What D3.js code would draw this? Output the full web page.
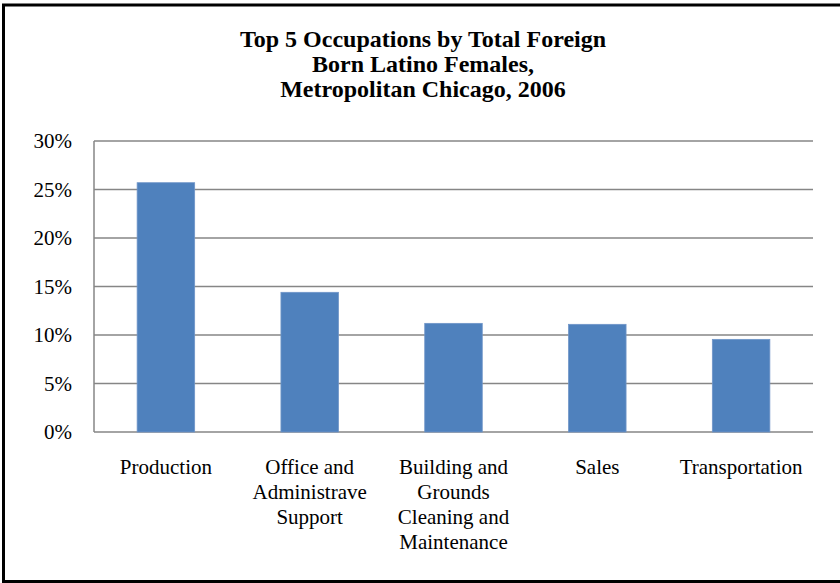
<!DOCTYPE html>
<html><head><meta charset="utf-8">
<script src="https://cdn.jsdelivr.net/npm/d3@7"></script>
<style>body{margin:0;background:#fff}svg{display:block}
text{font-family:"Liberation Serif","Times New Roman",Times,"DejaVu Serif",serif}</style>
</head><body>
<svg id="c" width="840" height="583"></svg>
<script>
const categories = [
  ["Production"],
  ["Office and", "Administrave", "Support"],
  ["Building and", "Grounds", "Cleaning and", "Maintenance"],
  ["Sales"],
  ["Transportation"]
];
const values = [25.7, 14.4, 11.2, 11.1, 9.55];
const yTicks = [0, 5, 10, 15, 20, 25, 30];
const titleLines = ["Top 5 Occupations by Total Foreign", "Born Latino Females,", "Metropolitan Chicago, 2006"];

const svg = d3.select("#c");
svg.append("rect").attr("x",3.5).attr("y",5).attr("width",840).attr("height",576.5)
  .attr("fill","none").attr("stroke","#000").attr("stroke-width",3);

const L=94, R=813, T=141, B=432;
const x = d3.scaleBand().domain(d3.range(categories.length)).range([L,R]).padding(0);
const y = d3.scaleLinear().domain([0,30]).range([B,T]);

const g = svg.append("g");
g.selectAll("line.grid").data(yTicks).join("line").attr("class","grid")
  .attr("x1",L).attr("x2",R).attr("y1",d=>y(d)).attr("y2",d=>y(d))
  .attr("stroke","#868686").attr("stroke-width",1.5);
g.append("line").attr("x1",L).attr("x2",L).attr("y1",T).attr("y2",B)
  .attr("stroke","#868686").attr("stroke-width",1.5);

const bw = x.bandwidth()*0.4;
g.selectAll("rect.bar").data(values).join("rect").attr("class","bar")
  .attr("x",(d,i)=>x(i)+x.bandwidth()/2-bw/2).attr("width",bw)
  .attr("y",d=>y(d)).attr("height",d=>B-y(d))
  .attr("fill","#4F81BD").attr("stroke","#6f95c8").attr("stroke-width",0.8);

g.selectAll("text.yt").data(yTicks).join("text").attr("class","yt")
  .attr("x",72).attr("y",d=>y(d)).attr("dy","0.35em").attr("text-anchor","end")
  .attr("font-size",21).text(d=>d+"%");

const xl = g.selectAll("text.xl").data(categories).join("text").attr("class","xl")
  .attr("text-anchor","middle").attr("font-size",21);
xl.each(function(lines,i){
  const t=d3.select(this);
  lines.forEach((s,j)=>t.append("tspan").attr("x",x(i)+x.bandwidth()/2).attr("y",474+j*25).text(s));
});

svg.append("text").attr("text-anchor","middle")
  .attr("font-size",24).attr("font-weight","bold")
  .selectAll("tspan").data(titleLines).join("tspan")
  .attr("x",423).attr("y",(d,i)=>47+i*25).text(d=>d);
</script>
</body></html>
